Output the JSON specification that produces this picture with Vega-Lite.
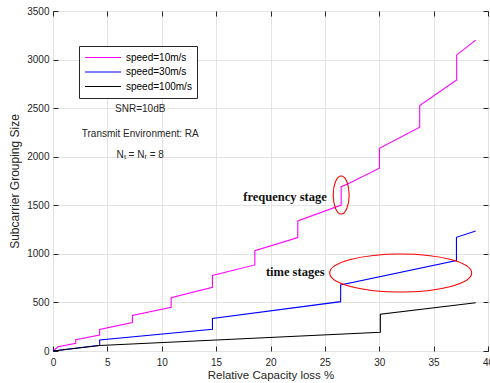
{
  "$schema": "https://vega.github.io/schema/vega-lite/v6.json",
  "width": 435,
  "height": 340,
  "autosize": {"type": "none"},
  "padding": {"left": 53, "top": 11, "right": 2, "bottom": 32},
  "background": "white",
  "config": {
    "view": {"stroke": "#262626", "strokeWidth": 1},
    "font": "Liberation Sans"
  },
  "datasets": {
    "lines": [
      {"series": "speed=10m/s", "i": 1, "x": 0, "y": 0},
      {"series": "speed=10m/s", "i": 2, "x": 0.46, "y": 44},
      {"series": "speed=10m/s", "i": 3, "x": 2.09, "y": 80},
      {"series": "speed=10m/s", "i": 4, "x": 2.09, "y": 117},
      {"series": "speed=10m/s", "i": 5, "x": 4.29, "y": 165},
      {"series": "speed=10m/s", "i": 6, "x": 4.29, "y": 223},
      {"series": "speed=10m/s", "i": 7, "x": 7.3, "y": 292},
      {"series": "speed=10m/s", "i": 8, "x": 7.3, "y": 367},
      {"series": "speed=10m/s", "i": 9, "x": 10.86, "y": 450},
      {"series": "speed=10m/s", "i": 10, "x": 10.86, "y": 549},
      {"series": "speed=10m/s", "i": 11, "x": 14.66, "y": 656},
      {"series": "speed=10m/s", "i": 12, "x": 14.66, "y": 777},
      {"series": "speed=10m/s", "i": 13, "x": 18.56, "y": 886},
      {"series": "speed=10m/s", "i": 14, "x": 18.56, "y": 1032},
      {"series": "speed=10m/s", "i": 15, "x": 22.51, "y": 1168},
      {"series": "speed=10m/s", "i": 16, "x": 22.51, "y": 1339},
      {"series": "speed=10m/s", "i": 17, "x": 26.5, "y": 1502},
      {"series": "speed=10m/s", "i": 18, "x": 26.5, "y": 1692},
      {"series": "speed=10m/s", "i": 19, "x": 27.1, "y": 1720},
      {"series": "speed=10m/s", "i": 20, "x": 30.02, "y": 1881},
      {"series": "speed=10m/s", "i": 21, "x": 30.02, "y": 2087},
      {"series": "speed=10m/s", "i": 22, "x": 33.72, "y": 2303},
      {"series": "speed=10m/s", "i": 23, "x": 33.72, "y": 2526},
      {"series": "speed=10m/s", "i": 24, "x": 37.12, "y": 2790},
      {"series": "speed=10m/s", "i": 25, "x": 37.12, "y": 3048},
      {"series": "speed=10m/s", "i": 26, "x": 38.87, "y": 3200},
      {"series": "speed=30m/s", "i": 1, "x": 0, "y": 0},
      {"series": "speed=30m/s", "i": 2, "x": 4.29, "y": 60},
      {"series": "speed=30m/s", "i": 3, "x": 4.29, "y": 113},
      {"series": "speed=30m/s", "i": 4, "x": 14.66, "y": 223},
      {"series": "speed=30m/s", "i": 5, "x": 14.66, "y": 336},
      {"series": "speed=30m/s", "i": 6, "x": 26.45, "y": 508},
      {"series": "speed=30m/s", "i": 7, "x": 26.45, "y": 680},
      {"series": "speed=30m/s", "i": 8, "x": 37.1, "y": 930},
      {"series": "speed=30m/s", "i": 9, "x": 37.1, "y": 1170},
      {"series": "speed=30m/s", "i": 10, "x": 38.87, "y": 1236},
      {"series": "speed=100m/s", "i": 1, "x": 0, "y": 0},
      {"series": "speed=100m/s", "i": 2, "x": 4.29, "y": 57},
      {"series": "speed=100m/s", "i": 3, "x": 30.1, "y": 193},
      {"series": "speed=100m/s", "i": 4, "x": 30.1, "y": 378},
      {"series": "speed=100m/s", "i": 5, "x": 38.87, "y": 497}
    ],
    "notes": [
      {"kind": "info", "label": "SNR=10dB", "x": 8.02, "y": 2488},
      {"kind": "info", "label": "Transmit Environment: RA", "x": 8.02, "y": 2234},
      {"kind": "info", "label": "Nₜ = Nᵣ = 8", "x": 8.02, "y": 2018},
      {"kind": "stage", "label": "frequency stage", "x": 25.17, "y": 1590},
      {"kind": "stage", "label": "time stages", "x": 24.97, "y": 810}
    ],
    "rings": [
      {"name": "freq", "x": 26.5, "y": 1606},
      {"name": "time", "x": 31.97, "y": 803}
    ]
  },
  "resolve": {"axis": {"x": "independent", "y": "independent"}},
  "layer": [
    {
      "data": {"name": "lines"},
      "mark": {"type": "line", "strokeWidth": 1.1},
      "encoding": {
        "x": {
          "field": "x", "type": "quantitative",
          "scale": {"domain": [0, 40], "nice": false, "zero": false},
          "axis": {
            "orient": "bottom", "values": [0, 5, 10, 15, 20, 25, 30, 35, 40], "format": "d",
            "offset": -5, "tickSize": 5, "tickColor": "#262626", "domain": false,
            "grid": true, "gridColor": "#e3e3e3",
            "labelFlush": false, "labelOverlap": false, "labelBound": false,
            "labelPadding": 6, "labelFont": "Liberation Sans", "labelFontSize": 10, "labelColor": "#262626",
            "title": "Relative Capacity loss %", "titleFont": "Liberation Sans", "titleFontSize": 11.5,
            "titleFontWeight": "normal", "titleColor": "#262626", "titlePadding": 2
          }
        },
        "y": {
          "field": "y", "type": "quantitative",
          "scale": {"domain": [0, 3500], "nice": false},
          "axis": {
            "orient": "left", "values": [0, 500, 1000, 1500, 2000, 2500, 3000, 3500], "format": "d",
            "offset": -5, "tickSize": 5, "tickColor": "#262626", "domain": false,
            "grid": true, "gridColor": "#e3e3e3", "labelOverlap": false,
            "labelPadding": 4, "labelFont": "Liberation Sans", "labelFontSize": 10, "labelColor": "#262626",
            "title": "Subcarrier Grouping Size", "titleFont": "Liberation Sans", "titleFontSize": 12,
            "titleFontWeight": "normal", "titleColor": "#262626", "titlePadding": 5
          }
        },
        "color": {
          "field": "series", "type": "nominal",
          "scale": {"domain": ["speed=10m/s", "speed=30m/s", "speed=100m/s"], "range": ["#ff00ff", "#0000ff", "#000000"]},
          "legend": {
            "title": null, "orient": "none", "legendX": 26, "legendY": 35,
            "symbolType": "stroke", "symbolSize": 1296, "symbolStrokeWidth": 1.1,
            "labelFont": "Liberation Sans", "labelFontSize": 10, "labelColor": "#000000", "labelOffset": 4,
            "fillColor": "white", "strokeColor": "#262626", "padding": 5, "clipHeight": 13, "rowPadding": 1.5
          }
        },
        "order": {"field": "i", "type": "quantitative"}
      }
    },
    {
      "data": {"name": "notes"},
      "transform": [{"filter": "datum.kind === 'info'"}],
      "mark": {"type": "text", "font": "Liberation Sans", "fontSize": 10, "color": "#262626", "align": "center", "baseline": "middle"},
      "encoding": {
        "x": {
          "field": "x", "type": "quantitative",
          "axis": {"orient": "top", "values": [0, 5, 10, 15, 20, 25, 30, 35, 40], "offset": -5, "tickSize": 5, "tickColor": "#262626", "domain": false, "grid": false, "labels": false, "title": null}
        },
        "y": {
          "field": "y", "type": "quantitative",
          "axis": {"orient": "right", "values": [0, 500, 1000, 1500, 2000, 2500, 3000, 3500], "offset": -5, "tickSize": 5, "tickColor": "#262626", "domain": false, "grid": false, "labels": false, "title": null}
        },
        "text": {"field": "label", "type": "nominal"}
      }
    },
    {
      "data": {"name": "notes"},
      "transform": [{"filter": "datum.kind === 'stage'"}],
      "mark": {"type": "text", "font": "Liberation Serif", "fontSize": 12.5, "fontWeight": "bold", "color": "#111111", "align": "right", "baseline": "middle"},
      "encoding": {
        "x": {"field": "x", "type": "quantitative", "axis": null},
        "y": {"field": "y", "type": "quantitative", "axis": null},
        "text": {"field": "label", "type": "nominal"}
      }
    },
    {
      "data": {"name": "rings"},
      "transform": [{"filter": "datum.name === 'freq'"}],
      "mark": {"type": "point", "shape": "M 0 -1 A 0.42 1 0 1 1 0 1 A 0.42 1 0 1 1 0 -1 Z", "size": 1444, "filled": false, "color": "#ff0000", "strokeWidth": 1.1, "opacity": 1},
      "encoding": {
        "x": {"field": "x", "type": "quantitative", "axis": null},
        "y": {"field": "y", "type": "quantitative", "axis": null}
      }
    },
    {
      "data": {"name": "rings"},
      "transform": [{"filter": "datum.name === 'time'"}],
      "mark": {"type": "point", "shape": "M -1 0 A 1 0.268 0 1 1 1 0 A 1 0.268 0 1 1 -1 0 Z", "size": 20164, "filled": false, "color": "#ff0000", "strokeWidth": 1.1, "opacity": 1},
      "encoding": {
        "x": {"field": "x", "type": "quantitative", "axis": null},
        "y": {"field": "y", "type": "quantitative", "axis": null}
      }
    }
  ]
}
